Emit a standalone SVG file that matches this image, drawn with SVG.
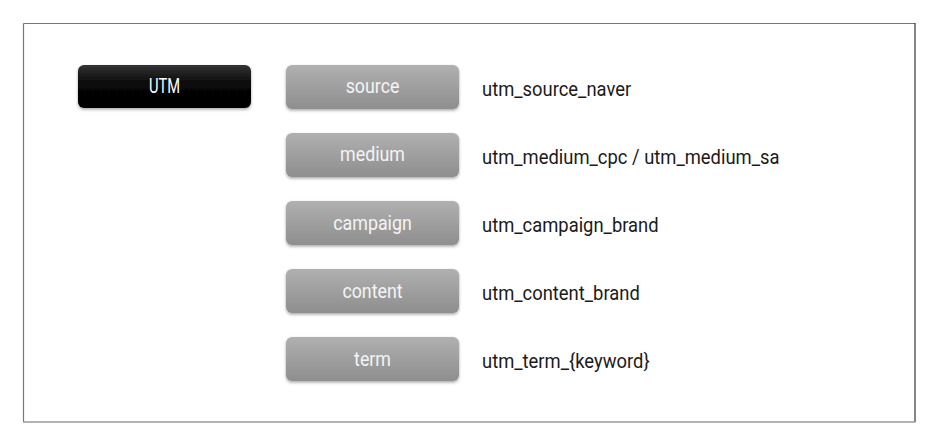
<svg xmlns="http://www.w3.org/2000/svg" width="936" height="446" viewBox="0 0 936 446">
<defs>
<linearGradient id="gGray" x1="0" y1="0" x2="0" y2="1">
<stop offset="0" stop-color="#b0b0b0"/>
<stop offset="1" stop-color="#8e8e8e"/>
</linearGradient>
<linearGradient id="gBlack" x1="0" y1="0" x2="0" y2="1">
<stop offset="0" stop-color="#333"/>
<stop offset="0.45" stop-color="#080808"/>
<stop offset="1" stop-color="#000"/>
</linearGradient>
<filter id="sh" x="-10%" y="-20%" width="120%" height="150%">
<feDropShadow dx="0" dy="1.5" stdDeviation="1.5" flood-color="#000" flood-opacity="0.35"/>
</filter>
</defs>
<style>
.box{stroke:none;filter:url(#sh)}
.btxt{font-family:Roboto,"Liberation Sans",sans-serif;font-size:20px;fill:#f4f4f4;text-anchor:middle}
.lbl{font-family:Roboto,"Liberation Sans",sans-serif;font-size:20px;fill:#1a1a1a}
</style>
<rect width="936" height="446" fill="#fff"/>
<g id="frame">
<line x1="23.5" y1="23.5" x2="915" y2="23.5" stroke="#777" stroke-width="1.2"/>
<line x1="23.5" y1="23.5" x2="23.5" y2="422" stroke="#777" stroke-width="1.2"/>
<line x1="915" y1="23" x2="915" y2="422" stroke="#333" stroke-width="1.2"/>
<line x1="23" y1="422" x2="915.5" y2="422" stroke="#999" stroke-width="1.4"/>
</g>
<g id="utm">
<rect class="box" x="78" y="65" width="173" height="43" rx="6" fill="url(#gBlack)"/>
<text class="btxt" transform="translate(164.5,93) scale(0.7,1)" style="font-size:21px;fill:#fff">UTM</text>
</g>
<g id="source">
<rect class="box" x="286" y="65" width="173" height="44" rx="6" fill="url(#gGray)"/>
<text class="btxt" transform="translate(372.5,93) scale(0.89,1)">source</text>
<text class="lbl" transform="translate(482,96) scale(0.92,1)">utm_source_naver</text>
</g>
<g id="medium">
<rect class="box" x="286" y="133" width="173" height="44" rx="6" fill="url(#gGray)"/>
<text class="btxt" transform="translate(372.5,161) scale(0.89,1)">medium</text>
<text class="lbl" transform="translate(482,164) scale(0.92,1)">utm_medium_cpc / utm_medium_sa</text>
</g>
<g id="campaign">
<rect class="box" x="286" y="201" width="173" height="44" rx="6" fill="url(#gGray)"/>
<text class="btxt" transform="translate(372.5,229.5) scale(0.89,1)">campaign</text>
<text class="lbl" transform="translate(482,232) scale(0.92,1)">utm_campaign_brand</text>
</g>
<g id="content">
<rect class="box" x="286" y="269" width="173" height="44" rx="6" fill="url(#gGray)"/>
<text class="btxt" transform="translate(372.5,297.5) scale(0.89,1)">content</text>
<text class="lbl" transform="translate(482,300) scale(0.92,1)">utm_content_brand</text>
</g>
<g id="term">
<rect class="box" x="286" y="337" width="173" height="44" rx="6" fill="url(#gGray)"/>
<text class="btxt" transform="translate(372.5,365.5) scale(0.89,1)">term</text>
<text class="lbl" transform="translate(482,368) scale(0.92,1)">utm_term_{keyword}</text>
</g>
<g id="connectors"></g>
</svg>
